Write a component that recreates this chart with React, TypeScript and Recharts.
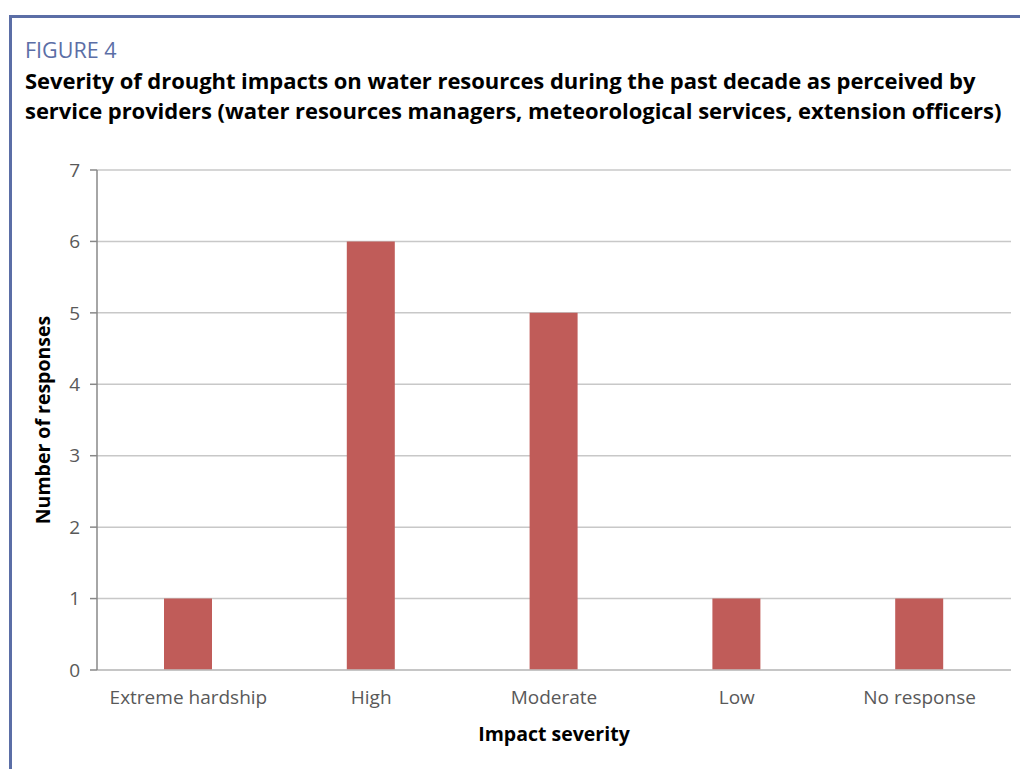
import React from 'react'
import { BarChart, Bar, XAxis, YAxis, CartesianGrid, Label } from 'recharts'

const categories = ['Extreme hardship', 'High', 'Moderate', 'Low', 'No response']
const responses = [1, 6, 5, 1, 1]
const yTicks = [0, 1, 2, 3, 4, 5, 6, 7]

const data = categories.map((name, i) => ({ name, count: responses[i] }))

const font = '"Open Sans", "Noto Sans", sans-serif'
const frame = '#5b6ea6'

export default function App() {
  return (
    <div
      style={{
        position: 'absolute',
        left: 0,
        top: 0,
        width: 1020,
        height: 769,
        background: '#fff',
        fontFamily: font,
        overflow: 'hidden',
      }}
    >
      <div
        style={{
          position: 'absolute',
          left: 9,
          top: 15,
          width: 1020,
          height: 800,
          borderTop: `3px solid ${frame}`,
          borderLeft: `3px solid ${frame}`,
        }}
      />
      <div style={{ position: 'absolute', left: 25, top: 35, fontSize: 21.5, color: frame, lineHeight: '30px' }}>
        FIGURE 4
      </div>
      <div
        style={{
          position: 'absolute',
          left: 25,
          top: 65,
          width: 995,
          fontSize: 22,
          fontWeight: 700,
          lineHeight: '30px',
          color: '#000',
          whiteSpace: 'nowrap',
          letterSpacing: -0.05,
        }}
      >
        Severity of drought impacts on water resources during the past decade as perceived by
        <br />
        service providers (water resources managers, meteorological services, extension officers)
      </div>
      <div style={{ position: 'absolute', left: 0, top: 0 }}>
        <BarChart
          width={1020}
          height={769}
          data={data}
          margin={{ top: 170, right: 9, bottom: 29, left: 37 }}
        >
          <CartesianGrid vertical={false} stroke="#c8c8c8" strokeWidth={1.5} />
          <XAxis
            dataKey="name"
            height={70}
            axisLine={{ stroke: '#c0c0c0', strokeWidth: 1.5 }}
            tickLine={false}
            tick={{ fontSize: 19, fill: '#595959', fontFamily: font }}
            tickMargin={15}
          >
            <Label
              value="Impact severity"
              position="insideBottom"
              offset={-1}
              style={{ fontSize: 19.5, fontWeight: 700, fill: '#000', fontFamily: font }}
            />
          </XAxis>
          <YAxis
            domain={[0, 7]}
            ticks={yTicks}
            interval={0}
            width={60}
            axisLine={{ stroke: '#888', strokeWidth: 1.5 }}
            tickLine={{ stroke: '#888', strokeWidth: 1.5 }}
            tickSize={7}
            tickMargin={10}
            tick={{ fontSize: 19, fill: '#595959', fontFamily: font }}
          >
            <Label
              value="Number of responses"
              angle={-90}
              position="center"
              dx={-24}
              style={{ fontSize: 19.5, fontWeight: 700, fill: '#000', fontFamily: font, textAnchor: 'middle' }}
            />
          </YAxis>
          <Bar dataKey="count" fill="#c05c59" barSize={48} isAnimationActive={false} />
        </BarChart>
      </div>
    </div>
  )
}
